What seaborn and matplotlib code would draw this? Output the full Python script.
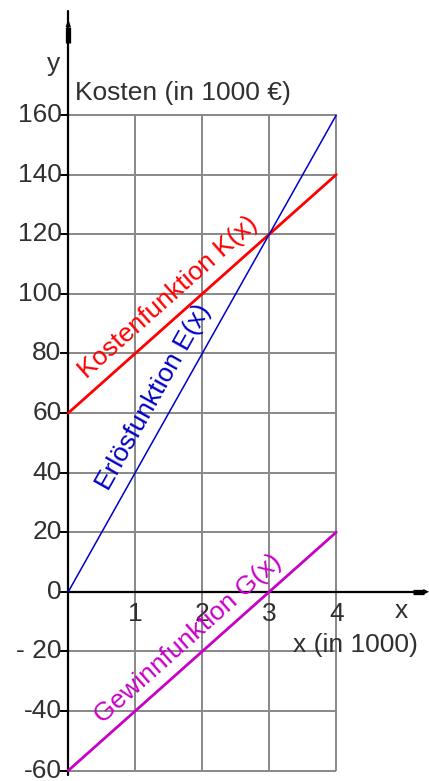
import matplotlib
matplotlib.use("Agg")
import matplotlib.pyplot as plt
import seaborn as sns
import pandas as pd
import numpy as np

# ---- data ----
x_vals = [0, 1, 2, 3, 4]
kosten = [60, 80, 100, 120, 140]
erloes = [0, 40, 80, 120, 160]
gewinn = [-60, -40, -20, 0, 20]
series_names = ["Kostenfunktion K(x)", "Erlösfunktion E(x)", "Gewinnfunktion G(x)"]
series_colors = ["#ff0000", "#0000c8", "#c800c8"]
series_widths = [2.0, 1.1, 2.0]

y_ticks = [160, 140, 120, 100, 80, 60, 40, 20, 0, -20, -40, -60]
y_tick_labels = ["160", "140", "120", "100", "80", "60", "40", "20", "0", "- 20", "-40", "-60"]
x_ticks = [1, 2, 3, 4]
x_tick_labels = ["1", "2", "3", "4"]
grid_x = [0, 1, 2, 3, 4]

sns.set_style("white")
plt.rcParams['font.family'] = ['Liberation Sans', 'DejaVu Sans']
FS = 19
TXT = "#303030"

df = pd.DataFrame({
    "x": x_vals * 3,
    "y": kosten + erloes + gewinn,
    "f": [n for n in series_names for _ in x_vals],
})

fig = plt.figure(figsize=(4.29, 7.81), dpi=100)
ax = fig.add_axes([0, 0, 1, 1])

# function lines
for name, col, lw in zip(series_names, series_colors, series_widths):
    sns.lineplot(data=df[df["f"] == name], x="x", y="y", color=col,
                 linewidth=lw, ax=ax, zorder=4, legend=False)
ax.axis("off")
ax.set_xlim(-1.019, 5.384)
ax.set_ylim(-63.5, 198.6)

# grid (limited to the box)
ax.hlines(y_ticks, 0, 4, colors="#888888", lw=1.4, zorder=1)
ax.vlines(grid_x[1:], -60, 160, colors="#888888", lw=1.4, zorder=1)

# axes with arrows
ax.plot([0, 0], [-61.5, 194.8], color="black", lw=1.6, zorder=2)
ax.plot([0, 5.30], [0, 0], color="black", lw=1.6, zorder=2)
# y arrow: thick bar + pointed tip
ax.plot([0, 0], [184.2, 189.6], color="black", lw=3.8, solid_capstyle="butt", zorder=3)
ax.fill([-0.040, 0.040, 0], [189.5, 189.5, 192.2], color="black", lw=0, zorder=3)
# x arrow: thick bar + pointed tip
ax.plot([5.145, 5.31], [0, 0], color="black", lw=3.8, solid_capstyle="butt", zorder=3)
ax.fill([5.30, 5.30, 5.384], [-0.95, 0.95, 0], color="black", lw=0, zorder=3)
# y-ticks
ax.hlines(y_ticks, -0.12, 0, colors="black", lw=1.4, zorder=2)

# tick labels
for v, lab in zip(y_ticks, y_tick_labels):
    ax.text(-0.10, v, lab, ha="right", va="center", fontsize=FS, color=TXT)
for v, lab in zip(x_ticks, x_tick_labels):
    ax.text(v, -7.4, lab, ha="center", va="center", fontsize=FS, color=TXT)

ax.text(4.97, -6.3, "x", ha="center", va="center", fontsize=FS, color=TXT)
ax.text(3.35, -18.0, "x (in 1000)", ha="left", va="center", fontsize=FS, color=TXT)
ax.text(-0.22, 177, "y", ha="center", va="center", fontsize=FS, color=TXT)
ax.text(0.1, 167.5, "Kosten (in 1000 €)", ha="left", va="center", fontsize=FS, color=TXT)

# rotated function labels
def screen_angle(slope):
    p0 = ax.transData.transform((0, 0))
    p1 = ax.transData.transform((1, slope))
    return np.degrees(np.arctan2(p1[1] - p0[1], p1[0] - p0[0]))

label_pos = [(1.49, 98.8), (1.28, 65.2), (1.79, -15.8)]
slopes = [20, 40, 20]
for name, col, (lx, ly), s in zip(series_names, series_colors, label_pos, slopes):
    ax.text(lx, ly, name, color=col, fontsize=FS, rotation=screen_angle(s),
            rotation_mode="anchor", ha="center", va="center", zorder=5)

fig.savefig("out.png", dpi=100)
